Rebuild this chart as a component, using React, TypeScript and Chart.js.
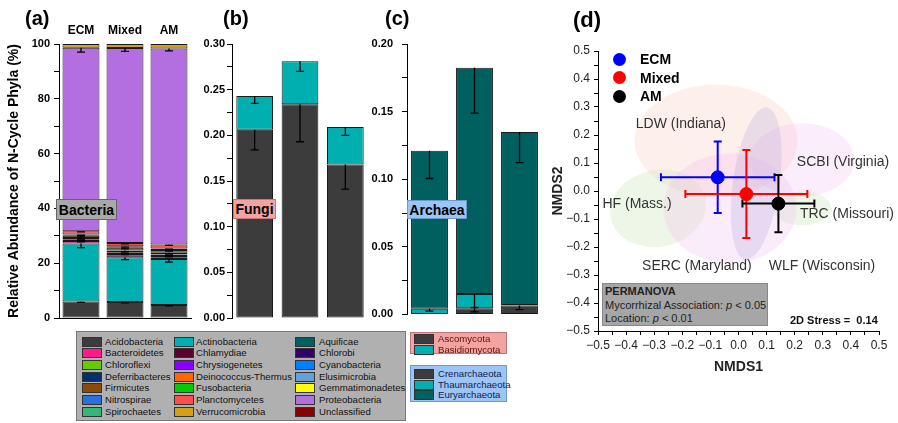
import React, { useEffect, useRef } from 'react';
import { Chart, registerables } from 'chart.js';
Chart.register(...registerables);

const FONT = "'Liberation Sans', Arial, Helvetica, sans-serif";
Chart.defaults.font.family = FONT;

// ---------- shared categories ----------
const forestTypes = ['ECM', 'Mixed', 'AM'];

// ---------- panel (a) Bacteria ----------
const bacteriaPhyla = ['Acidobacteria', 'Actinobacteria', 'Bacteroidetes', 'Deferribacteres', 'Nitrospirae', 'Firmicutes', 'Chlamydiae', 'Planctomycetes', 'Proteobacteria', 'Verrucomicrobia'];
const bacteriaColors = ['#3c3c3c', '#00b0b0', '#ff1a8c', '#00306e', '#2a6fdc', '#8b4a0a', '#5c0030', '#ff4d4d', '#b36ee0', '#d4a017'];
const bacteriaValues = [
  [6.0, 5.8, 4.7],
  [21.2, 16.4, 16.8],
  [0.9, 1.2, 1.1],
  [0.5, 0.6, 0.6],
  [0.6, 0.6, 0.6],
  [0.8, 1.0, 1.0],
  [0.5, 0.6, 0.6],
  [1.2, 1.2, 1.4],
  [66.9, 71.1, 71.6],
  [1.4, 1.5, 1.6],
];
const bacteriaErrors = [
  [0.3, 0.3, 0.3],
  [1.5, 0.9, 1.1],
  [0.3, 0.3, 0.3],
  [0.3, 0.3, 0.3],
  [0.4, 0.4, 0.4],
  [0.4, 0.4, 0.4],
  [0.3, 0.3, 0.3],
  [0.3, 0.3, 0.3],
  [1.6, 1.2, 0.9],
  [0, 0, 0],
];
const bacteriaTicks = { max: 100, step: 10, decimals: 0 };

// ---------- panel (b) Fungi ----------
const fungiPhyla = ['Ascomycota', 'Basidiomycota'];
const fungiColors = ['#3c3c3c', '#00b0b0'];
const ascomycota = [0.206, 0.234, 0.168];
const basidiomycota = [0.037, 0.047, 0.041];
const ascomycotaErr = [0.022, 0.041, 0.027];
const basidiomycotaErr = [0.008, 0.011, 0.009];
const fungiTicks = { max: 0.3, step: 0.025, decimals: 2 };

// ---------- panel (c) Archaea ----------
const archaeaPhyla = ['Crenarchaeota', 'Thaumarchaeota', 'Euryarchaeota'];
const archaeaColors = ['#3c3c3c', '#00b0b0', '#006060'];
const crenarchaeota = [0.0003, 0.0046, 0.0066];
const thaumarchaeota = [0.0038, 0.0105, 0.0004];
const euryarchaeota = [0.1169, 0.1673, 0.1279];
const crenarchaeotaErr = [0, 0.0027, 0.003];
const thaumarchaeotaErr = [0.0017, 0.010, 0];
const euryarchaeotaErr = [0.0205, 0.0336, 0.0227];
const archaeaTicks = { max: 0.2, step: 0.025, decimals: 2 };

// ---------- panel (d) NMDS ----------
const groupColors = ['#0000ff', '#ff0000', '#000000'];
const nmds1 = [-0.074, 0.028, 0.142];
const nmds2 = [0.049, -0.011, -0.045];
const nmds1Err = [0.202, 0.217, 0.128];
const nmds2Err = [0.128, 0.157, 0.102];

const siteNames = ['LDW (Indiana)', 'SCBI (Virginia)', 'HF (Mass.)', 'TRC (Missouri)', 'SERC (Maryland)', 'WLF (Wisconsin)'];
const siteEllipseX = [-0.08, 0.226, -0.286, 0.227, -0.031, 0.063];
const siteEllipseY = [0.18, 0.111, -0.062, -0.062, -0.062, 0.027];
const siteEllipseRx = [0.29, 0.187, 0.172, 0.104, 0.237, 0.083];
const siteEllipseRy = [0.2, 0.131, 0.137, 0.06, 0.196, 0.274];
const siteEllipseRot = [0, 0, 12, 0, 0, -8];
const siteEllipseColors = ['rgba(248,180,165,0.22)', 'rgba(238,175,238,0.22)', 'rgba(195,228,170,0.28)', 'rgba(195,228,170,0.28)', 'rgba(238,180,242,0.26)', 'rgba(170,160,215,0.24)'];
const siteLabelX = [-0.205, 0.372, -0.361, 0.386, -0.148, 0.297];
const siteLabelY = [0.239, 0.104, -0.046, -0.082, -0.268, -0.268];

// ---------- legends ----------
const legendNames = [
  'Acidobacteria', 'Bacteroidetes', 'Chloroflexi', 'Deferribacteres', 'Firmicutes', 'Nitrospirae', 'Spirochaetes',
  'Actinobacteria', 'Chlamydiae', 'Chrysiogenetes', 'Deinococcus-Thermus', 'Fusobacteria', 'Planctomycetes', 'Verrucomicrobia',
  'Aquificae', 'Chlorobi', 'Cyanobacteria', 'Elusimicrobia', 'Gemmatimonadetes', 'Proteobacteria', 'Unclassified',
];
const legendColors = [
  '#3c3c3c', '#ff1a8c', '#66cc00', '#00306e', '#8b4a0a', '#2a6fdc', '#33b877',
  '#00b0b0', '#5c0030', '#8800ff', '#ff6600', '#00cc00', '#ff4d4d', '#d4a017',
  '#006060', '#330066', '#0080ff', '#66a0d8', '#ffff00', '#b36ee0', '#8b0000',
];

// ---------- plugins ----------
const barErrorPlugin = {
  id: 'barErrors',
  afterDatasetsDraw(chart: any) {
    const ctx = chart.ctx;
    const ys = chart.scales.y;
    const n = chart.data.datasets[0].data.length;
    const cum = new Array(n).fill(0);
    ctx.save();
    ctx.strokeStyle = '#000';
    ctx.lineWidth = 1.3;
    chart.data.datasets.forEach((ds: any, i: number) => {
      const meta = chart.getDatasetMeta(i);
      ds.data.forEach((v: number, j: number) => {
        cum[j] += v;
        const e = ds.errors ? ds.errors[j] : 0;
        if (!e) return;
        const x = meta.data[j].x;
        const yt = ys.getPixelForValue(cum[j]);
        const yb = ys.getPixelForValue(cum[j] - e);
        ctx.beginPath();
        ctx.moveTo(x, yt);
        ctx.lineTo(x, yb);
        ctx.moveTo(x - 4, yb);
        ctx.lineTo(x + 4, yb);
        ctx.stroke();
      });
    });
    // category labels above the plot (panel a only)
    if (chart.options.plugins.topLabels?.show) {
      const xs = chart.scales.x;
      ctx.fillStyle = '#000';
      ctx.font = `bold 12px ${FONT}`;
      ctx.textAlign = 'center';
      ctx.textBaseline = 'middle';
      chart.data.labels.forEach((lab: string, j: number) => {
        ctx.fillText(lab, xs.getPixelForValue(j), chart.chartArea.top - 13);
      });
    }
    ctx.restore();
  },
};

const ordinationPlugin = {
  id: 'ordination',
  beforeDatasetsDraw(chart: any) {
    const ctx = chart.ctx;
    const xs = chart.scales.x;
    const ys = chart.scales.y;
    const kx = Math.abs(xs.getPixelForValue(1) - xs.getPixelForValue(0));
    const ky = Math.abs(ys.getPixelForValue(1) - ys.getPixelForValue(0));
    ctx.save();
    siteNames.forEach((_, i) => {
      ctx.beginPath();
      ctx.ellipse(
        xs.getPixelForValue(siteEllipseX[i]),
        ys.getPixelForValue(siteEllipseY[i]),
        siteEllipseRx[i] * kx,
        siteEllipseRy[i] * ky,
        (-siteEllipseRot[i] * Math.PI) / 180,
        0,
        Math.PI * 2
      );
      ctx.fillStyle = siteEllipseColors[i];
      ctx.fill();
    });
    ctx.fillStyle = '#333';
    ctx.font = `14px ${FONT}`;
    ctx.textAlign = 'center';
    ctx.textBaseline = 'middle';
    siteNames.forEach((name, i) => {
      ctx.fillText(name, xs.getPixelForValue(siteLabelX[i]), ys.getPixelForValue(siteLabelY[i]));
    });
    // error bars
    ctx.lineWidth = 2;
    chart.data.datasets.forEach((ds: any) => {
      const p = ds.data[0];
      const cx = xs.getPixelForValue(p.x);
      const cy = ys.getPixelForValue(p.y);
      const x0 = xs.getPixelForValue(p.x - ds.xErr);
      const x1 = xs.getPixelForValue(p.x + ds.xErr);
      const y0 = ys.getPixelForValue(p.y - ds.yErr);
      const y1 = ys.getPixelForValue(p.y + ds.yErr);
      ctx.strokeStyle = ds.borderColor;
      ctx.beginPath();
      ctx.moveTo(x0, cy); ctx.lineTo(x1, cy);
      ctx.moveTo(cx, y0); ctx.lineTo(cx, y1);
      ctx.moveTo(x0, cy - 4); ctx.lineTo(x0, cy + 4);
      ctx.moveTo(x1, cy - 4); ctx.lineTo(x1, cy + 4);
      ctx.moveTo(cx - 4, y0); ctx.lineTo(cx + 4, y0);
      ctx.moveTo(cx - 4, y1); ctx.lineTo(cx + 4, y1);
      ctx.stroke();
    });
    ctx.restore();
  },
};

// ---------- config builders ----------
function stackConfig(p: any) {
  const datasets = p.names.map((n: string, i: number) => ({
    label: n,
    data: p.values[i],
    errors: p.errors[i],
    backgroundColor: p.colors[i],
    borderColor: '#1a1a1a',
    borderWidth: 1,
    borderSkipped: false,
    barPercentage: p.barPct,
    categoryPercentage: 1,
  }));
  const scales: any = {
    x: {
      stacked: true,
      display: p.bottomAxis,
      afterFit: (s: any) => { s.height = 0; },
      grid: { display: false },
      ticks: { display: false },
      border: { display: true, color: '#000', width: 1 },
    },
    y: {
      stacked: true,
      min: 0,
      max: p.ticks.max,
      afterFit: (s: any) => { s.width = p.yWidth; },
      border: { display: true, color: '#000', width: 1 },
      grid: { drawOnChartArea: false, drawTicks: true, tickLength: 5, color: '#000' },
      ticks: {
        stepSize: p.ticks.step,
        autoSkip: false,
        maxTicksLimit: 100,
        padding: p.tickPad,
        color: '#000',
        font: { size: 11, weight: 'bold' },
        callback: (v: number) => {
          const k = Math.round(v / p.ticks.step);
          return k % 2 === 0 ? (k * p.ticks.step).toFixed(p.ticks.decimals) : '';
        },
      },
      title: p.yTitle
        ? { display: true, text: p.yTitle, color: '#000', font: { size: 14, weight: 'bold' }, padding: { top: 6, bottom: 0 } }
        : { display: false },
    },
  };
  return {
    type: 'bar',
    data: { labels: forestTypes, datasets },
    options: {
      responsive: false,
      animation: false,
      layout: { padding: { left: 0, top: 44, right: p.padRight, bottom: 12 } },
      scales,
      plugins: { legend: { display: false }, tooltip: { enabled: false }, topLabels: { show: !!p.topLabels } },
    },
    plugins: [barErrorPlugin],
  };
}

const fmtNMDS = (v: number) => {
  const k = Math.round(v * 20);
  if (k % 2 !== 0) return '';
  const r = k / 20;
  return (r < 0 ? '\u2212' : '') + Math.abs(r).toFixed(1);
};

function nmdsConfig() {
  const axisBase = (isX: boolean) => ({
    type: 'linear',
    min: -0.5,
    max: 0.5,
    border: { display: true, color: '#000', width: 1 },
    grid: { drawOnChartArea: false, drawTicks: true, tickLength: 4, color: '#000' },
    ticks: {
      stepSize: 0.05,
      autoSkip: false,
      maxRotation: 0,
      maxTicksLimit: 100,
      padding: isX ? 3 : 4,
      color: '#222',
      font: { size: 12 },
      callback: fmtNMDS,
    },
  });
  return {
    type: 'scatter',
    data: {
      datasets: forestTypes.map((g, i) => ({
        label: g,
        data: [{ x: nmds1[i], y: nmds2[i] }],
        xErr: nmds1Err[i],
        yErr: nmds2Err[i],
        backgroundColor: groupColors[i],
        borderColor: groupColors[i],
        pointRadius: 6.5,
        pointHoverRadius: 6.5,
      })),
    },
    options: {
      responsive: false,
      animation: false,
      layout: { padding: { left: 0, top: 51, right: 19, bottom: 47 } },
      scales: {
        x: {
          ...axisBase(true),
          afterFit: (s: any) => { s.height = 45; },
          title: { display: true, text: 'NMDS1', color: '#222', font: { size: 14, weight: 'bold' }, padding: { top: 0, bottom: 0 } },
        },
        y: {
          ...axisBase(false),
          afterFit: (s: any) => { s.width = 50; },
          title: { display: true, text: 'NMDS2', color: '#222', font: { size: 14, weight: 'bold' }, padding: { top: 2, bottom: 0 } },
        },
      },
      plugins: { legend: { display: false }, tooltip: { enabled: false } },
    },
    plugins: [ordinationPlugin],
  };
}

function ChartCanvas({ left, top, width, height, make }: any) {
  const ref = useRef<HTMLCanvasElement>(null);
  useEffect(() => {
    const chart = new Chart(ref.current as HTMLCanvasElement, make());
    return () => chart.destroy();
  }, []);
  return <canvas ref={ref} width={width} height={height} style={{ position: 'absolute', left, top, width, height }} />;
}

const abs = (left: number, top: number, extra: any = {}) => ({ position: 'absolute' as const, left, top, ...extra });

function PanelLabel({ text, left, top, size }: any) {
  return <div style={abs(left, top, { fontWeight: 'bold', fontSize: size, lineHeight: `${size}px`, whiteSpace: 'nowrap' })}>{text}</div>;
}

function TagBox({ text, left, top, width, height, bg, border }: any) {
  return (
    <div style={abs(left, top, { width, height, background: bg, border: `1px solid ${border}`, boxSizing: 'border-box', fontWeight: 'bold', fontSize: 14, display: 'flex', alignItems: 'center', justifyContent: 'center', whiteSpace: 'nowrap' })}>
      {text}
    </div>
  );
}

function Swatch({ color, left, top }: any) {
  return <div style={abs(left, top, { width: 20, height: 10, background: color, border: '1px solid #333', boxSizing: 'border-box' })} />;
}

export default function App() {
  const fungiValues = [ascomycota, basidiomycota];
  const fungiErrors = [ascomycotaErr, basidiomycotaErr];
  const archaeaValues = [crenarchaeota, thaumarchaeota, euryarchaeota];
  const archaeaErrors = [crenarchaeotaErr, thaumarchaeotaErr, euryarchaeotaErr];

  const colSwatch = [5, 97, 218];
  const colText = [28, 119, 242];

  return (
    <div style={{ position: 'fixed', left: 0, top: 0, width: 898, height: 423, background: '#fff', fontFamily: FONT, color: '#000', overflow: 'hidden' }}>
      <ChartCanvas left={0} top={0} width={200} height={330} make={() => stackConfig({
        names: bacteriaPhyla, colors: bacteriaColors, values: bacteriaValues, errors: bacteriaErrors,
        ticks: bacteriaTicks, yWidth: 59, padRight: 9, tickPad: 4, barPct: 0.84, bottomAxis: true, topLabels: true,
        yTitle: 'Relative Abundance of N-Cycle Phyla (%)',
      })} />
      <ChartCanvas left={190} top={0} width={182} height={330} make={() => stackConfig({
        names: fungiPhyla, colors: fungiColors, values: fungiValues, errors: fungiErrors,
        ticks: fungiTicks, yWidth: 42, padRight: 4, tickPad: 2, barPct: 0.81, bottomAxis: false, topLabels: false,
      })} />
      <ChartCanvas left={372} top={0} width={173} height={330} make={() => stackConfig({
        names: archaeaPhyla, colors: archaeaColors, values: archaeaValues, errors: archaeaErrors,
        ticks: archaeaTicks, yWidth: 35, padRight: 3, tickPad: 9, barPct: 0.82, bottomAxis: false, topLabels: false,
      })} />
      <ChartCanvas left={548} top={0} width={350} height={423} make={nmdsConfig} />

      <PanelLabel text="(a)" left={25} top={8} size={20} />
      <PanelLabel text="(b)" left={223} top={8} size={20} />
      <PanelLabel text="(c)" left={385} top={8} size={20} />
      <PanelLabel text="(d)" left={573} top={9} size={22} />

      <TagBox text="Bacteria" left={56} top={199} width={61} height={21} bg="#a9a9a9" border="#666" />
      <TagBox text="Fungi" left={233} top={199} width={43} height={20} bg="#f4a3a3" border="#c77" />
      <TagBox text="Archaea" left={407} top={200} width={60} height={19} bg="#9cc5f5" border="#6a9ad0" />

      {/* NMDS legend */}
      {forestTypes.map((g, i) => (
        <React.Fragment key={g}>
          <div style={abs(612.5, 52.5 + i * 18.5, { width: 13, height: 13, borderRadius: '50%', background: groupColors[i] })} />
          <div style={abs(640, 50 + i * 18.5, { height: 18, lineHeight: '18px', fontWeight: 'bold', fontSize: 14, whiteSpace: 'nowrap' })}>{g}</div>
        </React.Fragment>
      ))}

      {/* PERMANOVA box */}
      <div style={abs(602, 283, { width: 166, height: 43, background: '#a6a6a6', border: '1px solid #888', boxSizing: 'border-box', fontSize: 11, lineHeight: '13.5px', padding: '1px 2px', color: '#222', whiteSpace: 'nowrap' })}>
        <div style={{ fontWeight: 'bold' }}>PERMANOVA</div>
        <div>Mycorrhizal Association: <i>p</i> &lt; 0.05</div>
        <div>Location: <i>p</i> &lt; 0.01</div>
      </div>
      <div style={abs(790, 313, { fontWeight: 'bold', fontSize: 11, lineHeight: '14px', whiteSpace: 'pre', color: '#111' })}>{'2D Stress =  0.14'}</div>

      {/* Bacteria legend */}
      <div style={abs(76, 331, { width: 330, height: 90, background: '#b0b0b0', border: '1px solid #777', boxSizing: 'border-box' })}>
        {legendNames.map((n, k) => {
          const col = Math.floor(k / 7);
          const row = k % 7;
          const cy = 9.7 + row * 11.67;
          return (
            <React.Fragment key={n}>
              <Swatch color={legendColors[k]} left={colSwatch[col]} top={cy - 5} />
              <div style={abs(colText[col], cy - 6, { fontSize: 9.6, lineHeight: '12px', whiteSpace: 'nowrap', color: '#111' })}>{n}</div>
            </React.Fragment>
          );
        })}
      </div>

      {/* Fungi legend */}
      <div style={abs(410, 332, { width: 97, height: 22, background: '#f4a3a3', border: '1px solid #b77', boxSizing: 'border-box' })}>
        {fungiPhyla.map((n, k) => (
          <React.Fragment key={n}>
            <Swatch color={fungiColors[k]} left={3} top={1 + k * 10.5} />
            <div style={abs(27, k * 10.5, { fontSize: 9.6, lineHeight: '11px', whiteSpace: 'nowrap', color: '#5a1010' })}>{n}</div>
          </React.Fragment>
        ))}
      </div>

      {/* Archaea legend */}
      <div style={abs(410, 365, { width: 97, height: 37, background: '#9cc5f5', border: '1px solid #6a9ad0', boxSizing: 'border-box' })}>
        {archaeaPhyla.map((n, k) => (
          <React.Fragment key={n}>
            <Swatch color={archaeaColors[k]} left={3} top={3 + k * 10.5} />
            <div style={abs(27, 2 + k * 10.5, { fontSize: 9.6, lineHeight: '11px', whiteSpace: 'nowrap', color: '#102050' })}>{n}</div>
          </React.Fragment>
        ))}
      </div>
    </div>
  );
}
